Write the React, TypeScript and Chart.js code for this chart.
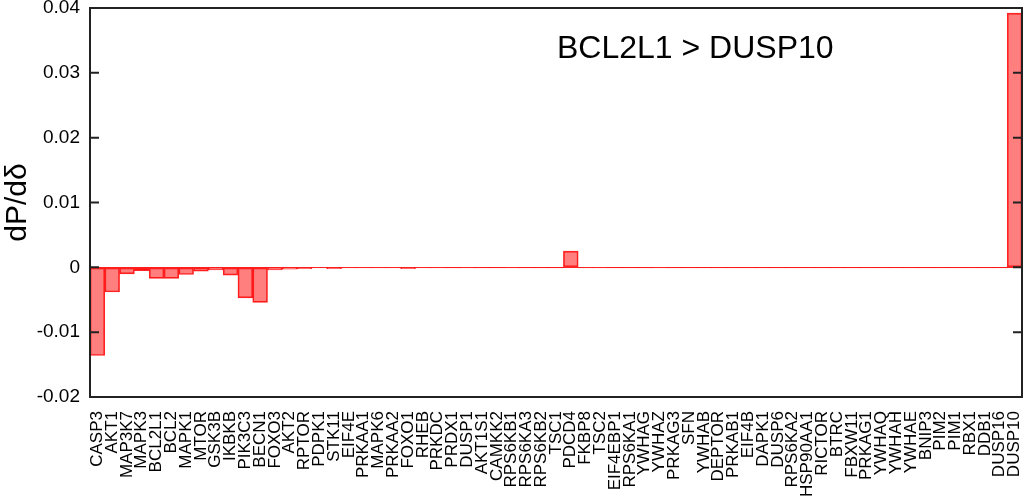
import React, { useEffect, useRef } from "react";
import { Chart, registerables } from "chart.js";

Chart.register(...registerables);

const genes: string[] = [
  "CASP3", "AKT1", "MAP3K7", "MAPK3", "BCL2L1", "BCL2", "MAPK1", "MTOR", "GSK3B", "IKBKB",
  "PIK3C3", "BECN1", "FOXO3", "AKT2", "RPTOR", "PDPK1", "STK11", "EIF4E", "PRKAA1", "MAPK6",
  "PRKAA2", "FOXO1", "RHEB", "PRKDC", "PRDX1", "DUSP1", "AKT1S1", "CAMKK2", "RPS6KB1", "RPS6KA3",
  "RPS6KB2", "TSC1", "PDCD4", "FKBP8", "TSC2", "EIF4EBP1", "RPS6KA1", "YWHAG", "YWHAZ", "PRKAG3",
  "SFN", "YWHAB", "DEPTOR", "PRKAB1", "EIF4B", "DAPK1", "DUSP6", "RPS6KA2", "HSP90AA1", "RICTOR",
  "BTRC", "FBXW11", "PRKAG1", "YWHAQ", "YWHAH", "YWHAE", "BNIP3", "PIM2", "PIM1", "RBX1",
  "DDB1", "DUSP16", "DUSP10",
];

const sensitivity: number[] = [
  -0.0136, -0.0038, -0.0010, -0.0005, -0.0017, -0.0017, -0.0011, -0.0006, -0.0004, -0.0012,
  -0.0047, -0.0054, -0.0004, -0.0003, -0.0002, -0.0001, -0.0002, -0.0001, -0.0001, -0.0001,
  -0.0001, -0.0002, -0.0001, -0.0001, -0.00005, -0.0001, -0.00005, -0.00005, -0.0001, -0.00005,
  -0.00005, -0.00005, 0.0025, -0.0001, -0.0001, -0.00005, -0.00005, -0.00005, -0.0001, -0.00005,
  -0.00005, -0.00005, -0.00005, -0.00005, -0.00005, -0.00005, -0.00005, -0.00005, -0.00005, -0.00005,
  -0.00005, -0.00005, -0.00005, -0.00005, -0.00005, -0.00005, -0.00005, -0.00005, -0.00005, -0.00005,
  -0.00005, -0.00005, 0.0392,
];

const yMin = -0.02;
const yMax = 0.04;
const yStep = 0.01;
const yTitle = "dP/dδ";
const annotation = "BCL2L1 > DUSP10";

const FONT = "'Liberation Sans', Arial, Helvetica, sans-serif";

const framePlugin = {
  id: "frame",
  afterDraw(chart: any) {
    const { ctx, chartArea, scales } = chart;
    const { left, right, top, bottom } = chartArea;
    ctx.save();
    ctx.strokeStyle = "#222";
    ctx.lineWidth = 2;
    ctx.strokeRect(left, top, right - left, bottom - top);
    const y = scales.y;
    y.ticks.forEach((t: any) => {
      const py = y.getPixelForValue(t.value);
      ctx.beginPath();
      ctx.moveTo(left, py);
      ctx.lineTo(left + 9, py);
      ctx.moveTo(right, py);
      ctx.lineTo(right - 9, py);
      ctx.stroke();
    });
    ctx.fillStyle = "#000";
    ctx.font = `32px ${FONT}`;
    ctx.textAlign = "left";
    ctx.textBaseline = "alphabetic";
    ctx.fillText(annotation, 557, 58);
    ctx.restore();
  },
};

export default function App() {
  const ref = useRef<HTMLCanvasElement | null>(null);

  useEffect(() => {
    document.body.style.margin = "0";
    if (!ref.current) return;
    const chart = new Chart(ref.current, {
      type: "bar",
      data: {
        labels: genes,
        datasets: [
          {
            data: sensitivity,
            backgroundColor: "rgba(255,0,0,0.5)",
            borderColor: "rgba(255,0,0,0.85)",
            borderWidth: 1,
            borderSkipped: false,
            barPercentage: 1,
            categoryPercentage: 1,
          },
        ],
      },
      options: {
        animation: false,
        responsive: true,
        maintainAspectRatio: false,
        layout: { padding: { top: 8, right: 2, left: 0, bottom: 0 } },
        plugins: {
          legend: { display: false },
          tooltip: { enabled: false },
        },
        scales: {
          x: {
            type: "category",
            offset: true,
            grid: { display: false, drawTicks: false },
            border: { display: false },
            ticks: {
              autoSkip: false,
              maxRotation: 90,
              minRotation: 90,
              padding: 14,
              color: "#000",
              font: { family: FONT, size: 17 },
            },
            afterFit(scale: any) {
              scale.height = 102;
              scale.paddingLeft = 0;
              scale.paddingRight = 0;
            },
          },
          y: {
            min: yMin,
            max: yMax,
            grid: {
              display: true,
              drawTicks: false,
              color: (c: any) => (c.tick && c.tick.value === 0 ? "rgba(255,0,0,0.85)" : "rgba(0,0,0,0)"),
              lineWidth: 1,
            },
            border: { display: false },
            ticks: {
              stepSize: yStep,
              padding: 10,
              color: "#000",
              font: { family: FONT, size: 19 },
              callback: (v: any) => (Math.abs(v) < 1e-9 ? "0" : Number(v).toFixed(2)),
            },
            title: {
              display: true,
              text: yTitle,
              color: "#000",
              font: { family: FONT, size: 30 },
              padding: { top: 0, bottom: 0 },
            },
            afterFit(scale: any) {
              scale.width = 90;
              scale.paddingTop = 0;
              scale.paddingBottom = 0;
            },
          },
        },
      },
      plugins: [framePlugin],
    });
    return () => chart.destroy();
  }, []);

  return (
    <div style={{ position: "relative", width: 1024, height: 499 }}>
      <canvas ref={ref} />
    </div>
  );
}
